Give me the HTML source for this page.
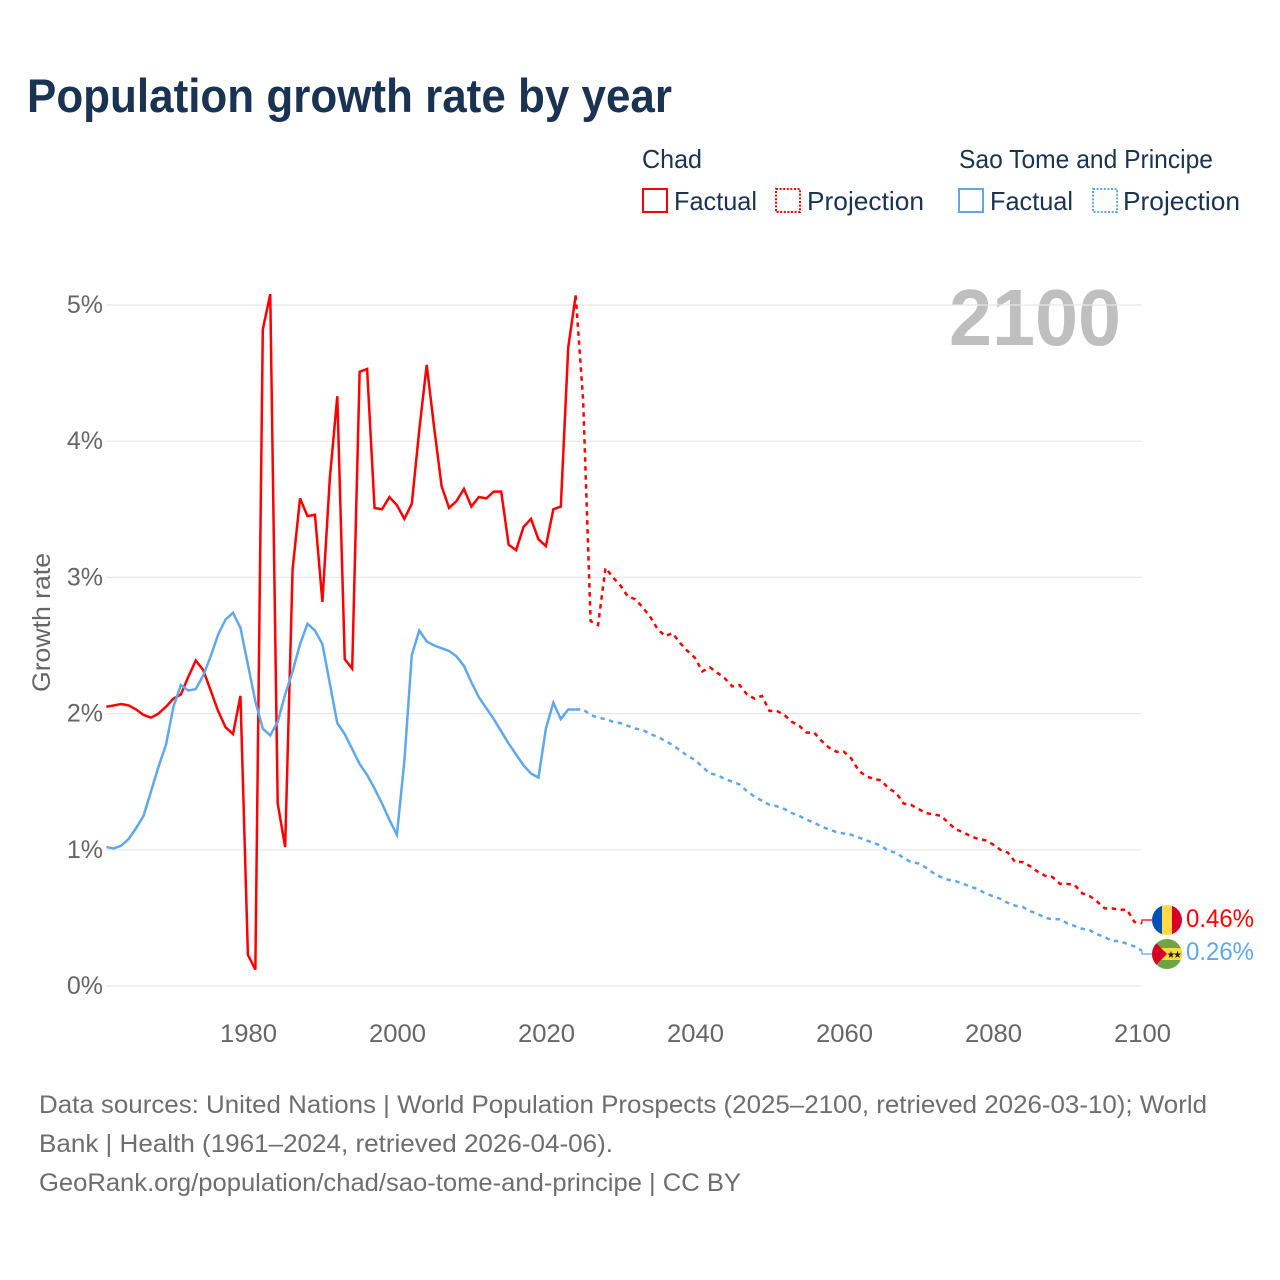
<!DOCTYPE html>
<html lang="en">
<head>
<meta charset="utf-8">
<title>Population growth rate by year</title>
<style>
html,body{margin:0;padding:0;background:#fff;width:1280px;height:1280px;overflow:hidden}
svg{display:block}
text{font-family:"Liberation Sans",sans-serif}
</style>
</head>
<body>
<svg id="chart" xmlns="http://www.w3.org/2000/svg" width="1280" height="1280" viewBox="0 0 1280 1280">
<rect width="1280" height="1280" fill="#fff"/>
<text x="27" y="112" font-size="47" font-weight="700" fill="#1a3353" textLength="645" lengthAdjust="spacingAndGlyphs">Population growth rate by year</text>

<g font-size="26" fill="#1a3353">
<text x="642" y="168" textLength="60" lengthAdjust="spacingAndGlyphs">Chad</text>
<text x="959" y="168" textLength="254" lengthAdjust="spacingAndGlyphs">Sao Tome and Principe</text>
<rect x="643" y="189" width="24" height="23" fill="none" stroke="#ff0000" stroke-width="2"/>
<text x="674" y="210" textLength="83" lengthAdjust="spacingAndGlyphs">Factual</text>
<rect x="776" y="189" width="24" height="23" fill="none" stroke="#ff0000" stroke-width="2" stroke-dasharray="2 1.6"/>
<text x="807" y="210" textLength="117" lengthAdjust="spacingAndGlyphs">Projection</text>
<rect x="959" y="189" width="24" height="23" fill="none" stroke="#5fa8ee" stroke-width="2"/>
<text x="990" y="210" textLength="83" lengthAdjust="spacingAndGlyphs">Factual</text>
<rect x="1093" y="189" width="24" height="23" fill="none" stroke="#5fa8ee" stroke-width="2" stroke-dasharray="2 1.6"/>
<text x="1123" y="210" textLength="117" lengthAdjust="spacingAndGlyphs">Projection</text>
</g>

<text x="949" y="345" font-size="80" font-weight="700" fill="#bfbfbf" textLength="172" lengthAdjust="spacingAndGlyphs">2100</text>
<g id="grid"></g>
<g id="yTicks" font-size="25" fill="#666" text-anchor="end"></g>
<g id="xTicks" font-size="25" fill="#666" text-anchor="middle"></g>
<text transform="translate(50,692) rotate(-90)" font-size="25" fill="#666" textLength="139" lengthAdjust="spacingAndGlyphs">Growth rate</text>
<g id="series"></g>

<g>
<clipPath id="clipChad"><circle cx="1167" cy="920" r="15"/></clipPath>
<g clip-path="url(#clipChad)">
<rect x="1152" y="905" width="10" height="30" fill="#0052b4"/>
<rect x="1162" y="905" width="10" height="30" fill="#ffda44"/>
<rect x="1172" y="905" width="10" height="30" fill="#d80027"/>
</g>
</g>
<g>
<clipPath id="clipStp"><circle cx="1167" cy="954" r="15"/></clipPath>
<g clip-path="url(#clipStp)">
<rect x="1152" y="939" width="30" height="30" fill="#6da544"/>
<rect x="1152" y="948" width="30" height="12" fill="#ffda44"/>
<polygon points="1152,939 1167,954 1152,969" fill="#d80027"/>
<text x="1171" y="958" font-size="10" fill="#222" text-anchor="middle" style="font-family:'DejaVu Sans',sans-serif">★</text>
<text x="1177.5" y="958" font-size="10" fill="#222" text-anchor="middle" style="font-family:'DejaVu Sans',sans-serif">★</text>
</g>
</g>
<text x="1186" y="927" font-size="25" fill="#ff0000" textLength="68" lengthAdjust="spacingAndGlyphs">0.46%</text>
<text x="1186" y="960" font-size="25" fill="#5fa8ee" textLength="68" lengthAdjust="spacingAndGlyphs">0.26%</text>

<g font-size="25" fill="#6e6e6e">
<text x="39" y="1113" textLength="1168" lengthAdjust="spacingAndGlyphs">Data sources: United Nations | World Population Prospects (2025–2100, retrieved 2026-03-10); World</text>
<text x="39" y="1152" textLength="574" lengthAdjust="spacingAndGlyphs">Bank | Health (1961–2024, retrieved 2026-04-06).</text>
<text x="39" y="1191" textLength="702" lengthAdjust="spacingAndGlyphs">GeoRank.org/population/chad/sao-tome-and-principe | CC BY</text>
</g>
</svg>
<script>
var yTickValues = [0, 1, 2, 3, 4, 5];
var xTickYears = [1980, 2000, 2020, 2040, 2060, 2080, 2100];
var factualStartYear = 1961;
var projectionStartYear = 2024;
var chadFactual = [
2.05,2.06,2.07,2.06,2.03,1.99,1.97,2.00,2.05,2.11,
2.14,2.27,2.39,2.32,2.17,2.02,1.90,1.85,2.13,0.23,
0.12,4.82,5.08,1.34,1.02,3.06,3.58,3.45,3.46,2.82,
3.73,4.33,2.40,2.33,4.51,4.53,3.51,3.50,3.59,3.53,
3.43,3.54,4.08,4.56,4.10,3.67,3.51,3.56,3.65,3.52,
3.59,3.58,3.63,3.63,3.24,3.20,3.37,3.43,3.28,3.23,
3.50,3.52,4.69,5.07];
var stpFactual = [
1.02,1.01,1.03,1.08,1.16,1.25,1.43,1.61,1.77,2.05,
2.21,2.17,2.18,2.28,2.42,2.58,2.69,2.74,2.63,2.36,
2.09,1.89,1.84,1.94,2.14,2.31,2.51,2.66,2.61,2.51,
2.22,1.93,1.85,1.74,1.63,1.55,1.45,1.34,1.22,1.11,
1.65,2.43,2.61,2.53,2.50,2.48,2.46,2.42,2.35,2.23,
2.12,2.04,1.96,1.87,1.78,1.70,1.62,1.56,1.53,1.89,
2.08,1.96,2.03,2.03];
var chadProjection = [
5.07,4.30,2.68,2.65,3.07,3.00,2.94,2.86,2.84,2.78,
2.71,2.62,2.57,2.59,2.52,2.46,2.41,2.31,2.34,2.30,
2.26,2.20,2.21,2.14,2.11,2.13,2.02,2.02,1.99,1.94,
1.91,1.86,1.86,1.80,1.75,1.72,1.72,1.67,1.58,1.54,
1.52,1.51,1.45,1.42,1.34,1.33,1.30,1.27,1.26,1.25,
1.20,1.15,1.13,1.10,1.08,1.07,1.04,1.00,0.98,0.91,
0.91,0.88,0.84,0.81,0.80,0.75,0.75,0.74,0.68,0.66,
0.62,0.57,0.57,0.56,0.56,0.47,0.46];
var stpProjection = [
2.03,2.03,1.99,1.97,1.96,1.94,1.93,1.91,1.89,1.88,
1.85,1.83,1.80,1.77,1.73,1.69,1.66,1.61,1.56,1.55,
1.52,1.50,1.48,1.43,1.39,1.36,1.33,1.32,1.30,1.27,
1.25,1.22,1.20,1.17,1.15,1.13,1.12,1.11,1.09,1.07,
1.05,1.03,0.99,0.98,0.94,0.91,0.90,0.87,0.83,0.80,
0.78,0.77,0.75,0.73,0.71,0.68,0.66,0.64,0.61,0.59,
0.58,0.55,0.53,0.50,0.49,0.49,0.46,0.44,0.42,0.41,
0.38,0.36,0.33,0.33,0.31,0.29,0.26];

function xScale(year) { return 247.9 + (year - 1980) * 7.45; }
function yScale(v) { return 986 - v * 136.2; }
var NS = 'http://www.w3.org/2000/svg';
function make(parent, tag) {
  var el = document.createElementNS(NS, tag);
  parent.appendChild(el);
  return el;
}
function pathFor(values, startYear) {
  return values.map(function (v, i) {
    return (i ? 'L' : 'M') + xScale(startYear + i).toFixed(2) + ' ' + yScale(v).toFixed(2);
  }).join(' ');
}

var grid = document.getElementById('grid');
var yTicks = document.getElementById('yTicks');
yTickValues.forEach(function (v) {
  var line = make(grid, 'line');
  
  
  line.setAttribute('x1', xScale(1961));
  line.setAttribute('x2', xScale(2100) - 0.5);
  line.setAttribute('y1', yScale(v));
  line.setAttribute('y2', yScale(v));
  line.setAttribute('stroke', '#e8e8e8');
  line.setAttribute('stroke-width', '1.2');
  var t = make(yTicks, 'text');
  
  
  t.setAttribute('x', 103);
  t.setAttribute('y', yScale(v) + 8);
  t.textContent = v + '%';
});

var xTicks = document.getElementById('xTicks');
xTickYears.forEach(function (yr) {
  var t = make(xTicks, 'text');
  
  
  t.setAttribute('x', xScale(yr) + 0.6);
  t.setAttribute('y', 1042);
  t.setAttribute('textLength', '57');
  t.setAttribute('lengthAdjust', 'spacingAndGlyphs');
  t.textContent = yr;
});

var series = document.getElementById('series');
function drawLine(values, startYear, color, dashed, name) {
  var p = make(series, 'path');
  
  
  p.setAttribute('d', pathFor(values, startYear));
  p.setAttribute('fill', 'none');
  p.setAttribute('stroke', color);
  p.setAttribute('stroke-width', '2.5');
  p.setAttribute('stroke-linejoin', 'miter');
  if (dashed) { p.setAttribute('stroke-dasharray', '4.5 4.5'); }
}
drawLine(chadFactual, factualStartYear, '#ff0000', false, 'chad-factual-line');
drawLine(chadProjection, projectionStartYear, '#ff0000', true, 'chad-projection-line');
drawLine(stpFactual, factualStartYear, '#5fa8ee', false, 'sao-tome-factual-line');
drawLine(stpProjection, projectionStartYear, '#5fa8ee', true, 'sao-tome-projection-line');

function drawConnector(values, flagY, color, name) {
  var endV = values[values.length - 1];
  var p = make(series, 'path');
  
  
  p.setAttribute('d', 'M' + xScale(2100) + ' ' + yScale(endV) + ' L' + xScale(2100) + ' ' + flagY + ' L1152 ' + flagY);
  p.setAttribute('fill', 'none');
  p.setAttribute('stroke', color);
  p.setAttribute('stroke-width', '1.2');
}
drawConnector(chadProjection, 920, '#ff0000', 'chad-end-connector');
drawConnector(stpProjection, 954, '#5fa8ee', 'sao-tome-end-connector');
</script>
</body>
</html>
